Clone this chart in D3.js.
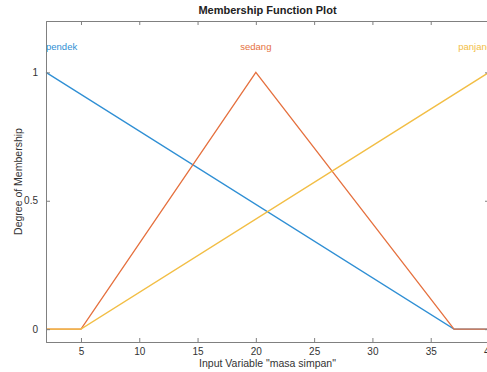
<!DOCTYPE html>
<html>
<head>
<meta charset="utf-8">
<script src="https://cdn.jsdelivr.net/npm/d3@7"></script>
<style>
  body { margin: 0; background: #fff; }
  svg { font-family: "Liberation Sans", Arial, sans-serif; }
</style>
</head>
<body>
<div id="chart"></div>
<script>
// membership functions of "masa simpan"
const mfNames = ['pendek', 'sedang', 'panjang'];
const mfColors = ['#2f8fd4', '#e5703e', '#f2be45'];
const pendekX = [2, 37, 40];
const pendekY = [1, 0, 0];
const sedangX = [2, 5, 20, 37, 40];
const sedangY = [0, 0, 1, 0, 0];
const panjangX = [2, 5, 40];
const panjangY = [0, 0, 1];
const xTicks = [5, 10, 15, 20, 25, 30, 35, 40];
const yTicks = [0, 0.5, 1];

const series = [
  { name: mfNames[0], xs: pendekX, ys: pendekY, color: mfColors[0], anchor: 'start', lx: 2 },
  { name: mfNames[1], xs: sedangX, ys: sedangY, color: mfColors[1], anchor: 'middle', lx: 20 },
  { name: mfNames[2], xs: panjangX, ys: panjangY, color: mfColors[2], anchor: 'end', lx: 40 }
];

const width = 487, height = 372;
const margin = { left: 46, top: 21, right: -2, bottom: 30 };

const x = d3.scaleLinear().domain([2, 40]).range([margin.left, width - margin.right]);
const y = d3.scaleLinear().domain([-0.05, 1.2]).range([height - margin.bottom, margin.top]);

const svg = d3.select('#chart').append('svg')
  .attr('width', width)
  .attr('height', height);

const axisColor = '#808080';

// lines
const line = d3.line().x(d => x(d[0])).y(d => y(d[1]));
series.forEach(s => {
  svg.append('path')
    .datum(s.xs.map((v, i) => [v, s.ys[i]]))
    .attr('d', line)
    .attr('fill', 'none')
    .attr('stroke', s.color)
    .attr('stroke-width', 1.3);
  svg.append('text')
    .attr('x', x(s.lx) + (s.anchor === 'end' ? 3 : 0))
    .attr('y', y(1.1))
    .attr('dy', '0.35em')
    .attr('text-anchor', s.anchor)
    .attr('font-size', 9.5)
    .attr('fill', s.color)
    .text(s.name);
});

// axes
const xAxis = svg.append('g')
  .attr('transform', `translate(0,${y(-0.05)})`)
  .call(d3.axisBottom(x).tickValues(xTicks).tickSize(-4).tickPadding(6).tickFormat(d3.format('d')));
const xTop = svg.append('g')
  .attr('transform', `translate(0,${y(1.2)})`)
  .call(d3.axisTop(x).tickValues(xTicks).tickSize(-4).tickFormat(''));
const yAxis = svg.append('g')
  .attr('transform', `translate(${x(2)},0)`)
  .call(d3.axisLeft(y).tickValues(yTicks).tickSize(-4).tickPadding(8).tickFormat(d => d === 0.5 ? '0.5' : d3.format('d')(d)));
const yRight = svg.append('g')
  .attr('transform', `translate(${x(40)},0)`)
  .call(d3.axisRight(y).tickValues(yTicks).tickSize(-4).tickFormat(''));

[xAxis, xTop, yAxis, yRight].forEach(g => {
  g.selectAll('path, line').attr('stroke', axisColor);
  g.selectAll('text')
    .attr('fill', '#333')
    .attr('font-size', 10)
    .attr('font-family', '"Liberation Sans", Arial, sans-serif');
});

// title and labels
svg.append('text')
  .attr('x', (x(2) + x(40)) / 2)
  .attr('y', 14)
  .attr('text-anchor', 'middle')
  .attr('font-size', 11)
  .attr('font-weight', 'bold')
  .attr('fill', '#222')
  .text('Membership Function Plot');

svg.append('text')
  .attr('x', (x(2) + x(40)) / 2)
  .attr('y', 367)
  .attr('text-anchor', 'middle')
  .attr('font-size', 10.5)
  .attr('fill', '#333')
  .text('Input Variable "masa simpan"');

svg.append('text')
  .attr('transform', `translate(22,${(y(-0.05) + y(1.2)) / 2}) rotate(-90)`)
  .attr('text-anchor', 'middle')
  .attr('font-size', 10.5)
  .attr('fill', '#333')
  .text('Degree of Membership');
</script>
</body>
</html>
